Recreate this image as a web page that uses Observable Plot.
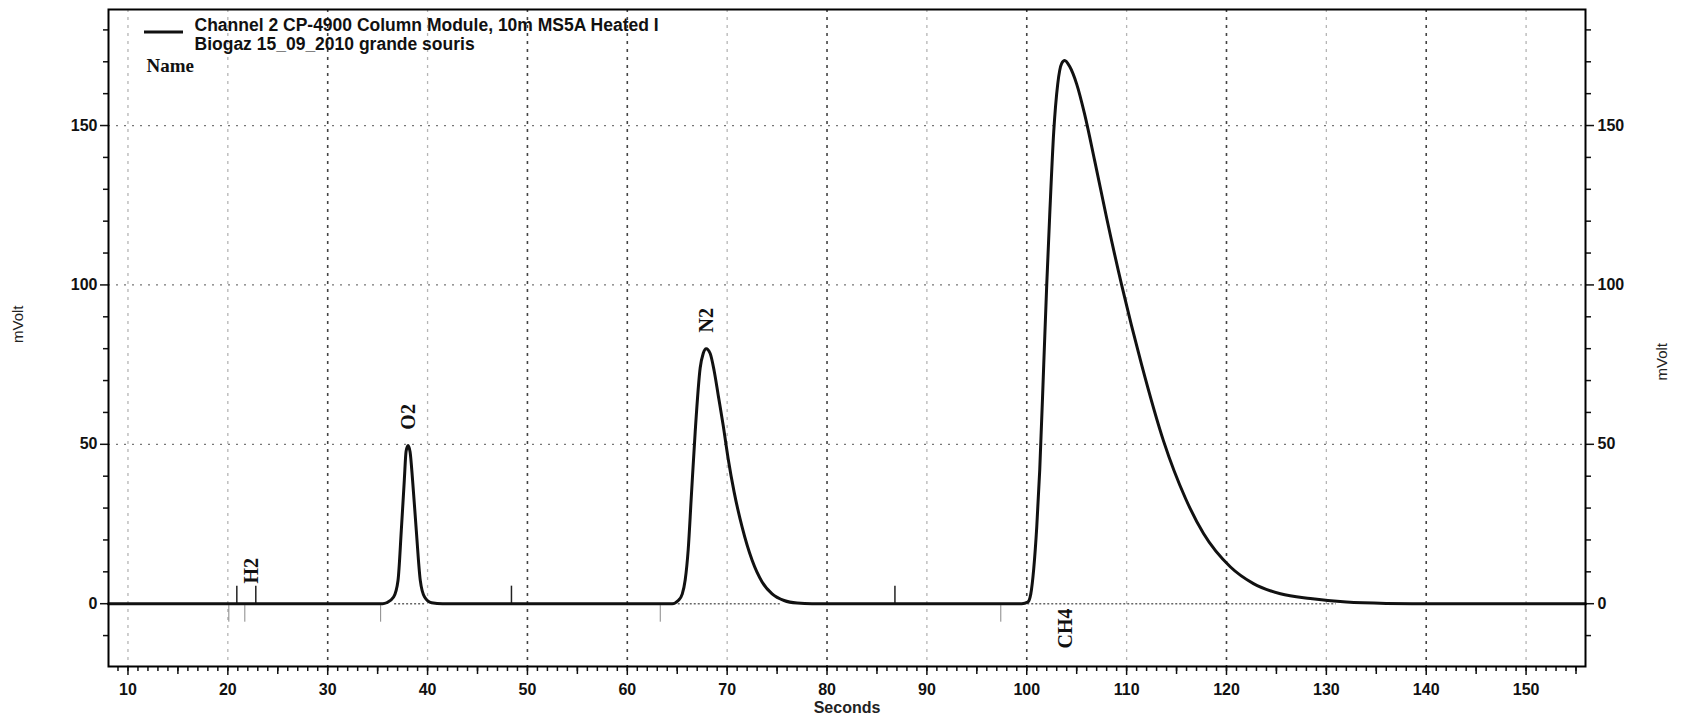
<!DOCTYPE html>
<html><head><meta charset="utf-8">
<script src="https://cdn.jsdelivr.net/npm/d3@7"></script>
<script src="https://cdn.jsdelivr.net/npm/@observablehq/plot@0.6"></script>
<style>html,body{margin:0;padding:0;background:#fff;} #chart{width:1690px;height:723px;}</style>
</head><body><div id="chart"></div>
<script>
// ---- data ----
const traceTime = [8.05, 35.5, 35.9, 36.6, 37.04, 37.37, 37.67, 37.85, 38.05, 38.25, 38.5, 38.87, 39.27, 39.7, 40.4, 41.5,
  64.5, 65.1, 65.5, 65.8, 66.1, 66.4, 66.8, 67.3, 67.6, 67.9, 68.3, 68.7, 69.1, 69.6, 70.1, 70.7, 71.5, 72.5, 73.5, 74.5, 75.7, 77.0, 78.5,
  99.5, 100.1, 100.4, 100.7, 101.0, 101.3, 101.7, 102.0, 102.3, 102.7, 103.1, 103.5, 103.8, 104.3, 105.0, 105.8, 106.8, 108.0, 109.5, 111.5, 113.7, 115.9, 117.7, 120.4, 122.7, 125.4, 128.4, 132.0, 136.0, 140.0, 155.95];
const traceMv = [0, 0, 0.3, 2.1, 7.3, 23.0, 38.7, 47.8, 49.6, 47.6, 38.7, 23.0, 7.3, 2.1, 0.3, 0,
  0, 1.0, 3.0, 7.5, 17.0, 33.0, 54.0, 74.0, 78.5, 80.0, 78.5, 73.0, 65.5, 56.0, 45.5, 35.0, 24.0, 13.6, 6.8, 3.1, 1.0, 0.2, 0,
  0, 0.5, 3.0, 11.0, 24.0, 42.0, 75.0, 100.0, 122.0, 148.0, 163.0, 169.5, 170.4, 168.5, 163.0, 153.5, 139.0, 121.0, 100.0, 75.0, 51.0, 33.0, 22.0, 11.5, 6.3, 3.1, 1.6, 0.5, 0.1, 0, 0];

const peakNamesAbove = ["H2", "O2", "N2"];
const peakTimesAbove = [22.4, 38.07, 67.9];
const peakLabelMvAbove = [6.3, 54.6, 85.1];
const peakNamesBelow = ["CH4"];
const peakTimesBelow = [103.86];
const peakLabelMvBelow = [-1.5];

const upMarkTimes = [20.9, 22.8, 48.4, 86.8];
const downMarkTimes = [20.1, 21.7, 35.3, 63.3, 97.4];
const baselineStarts = [36.7, 65.1, 100.1];
const baselineEnds = [39.7, 75.4, 131.0];

const xMajorTicks = [10, 20, 30, 40, 50, 60, 70, 80, 90, 100, 110, 120, 130, 140, 150];
const yMajorTicks = [0, 50, 100, 150];
const gridDark = [30, 50, 60, 80, 100, 120, 140];
const gridLight = [10, 20, 40, 70, 90, 110, 130, 150];

const legendLines = ["Channel 2 CP-4900 Column Module, 10m MS5A Heated I", "Biogaz 15_09_2010 grande souris"];
const legendName = "Name";
const xTitle = "Seconds";
const yTitle = "mVolt";

// ---- build ----
const trace = traceTime.map((t, i) => ({t, v: traceMv[i]}));
const above = peakNamesAbove.map((n, i) => ({n, t: peakTimesAbove[i], v: peakLabelMvAbove[i]}));
const below = peakNamesBelow.map((n, i) => ({n, t: peakTimesBelow[i], v: peakLabelMvBelow[i]}));
const baselines = baselineStarts.map((s, i) => ({x1: s, x2: baselineEnds[i]}));
const yMinor = d3.range(-10, 190, 10).filter(v => !yMajorTicks.includes(v));
const xMinor = d3.range(9, 156, 1);
const xMid = d3.range(15, 156, 10);

const sans = "Liberation Sans, Arial, sans-serif";
const serif = "Liberation Serif, Times New Roman, serif";

const chart = Plot.plot({
  width: 1690, height: 723,
  marginTop: 9, marginBottom: 57, marginLeft: 108, marginRight: 105,
  style: {fontFamily: sans, color: "#111", background: "#fff"},
  x: {domain: [8.05, 155.95]},
  y: {domain: [-19.7, 186.4]},
  marks: [
    Plot.ruleX(gridLight, {stroke: "#b5b5b5", strokeWidth: 1.3, strokeDasharray: "3,5"}),
    Plot.ruleX(gridDark, {stroke: "#444", strokeWidth: 1.6, strokeDasharray: "3,5"}),
    Plot.ruleY([50, 100, 150], {stroke: "#777", strokeWidth: 1.3, strokeDasharray: "2,6"}),
    Plot.ruleY(baselines, {y: 0, x1: "x1", x2: "x2", stroke: "#666", strokeWidth: 1.5, strokeDasharray: "2,2"}),
    Plot.ruleX(upMarkTimes, {y1: 0, y2: 5.5, stroke: "#222", strokeWidth: 1.5}),
    Plot.ruleX(downMarkTimes, {y1: -0.6, y2: -5.8, stroke: "#888", strokeWidth: 1}),
    Plot.line(trace, {x: "t", y: "v", stroke: "#111", strokeWidth: 3, curve: "monotone-x"}),
    Plot.text(above, {x: "t", y: "v", text: "n", rotate: -90, textAnchor: "start", fontFamily: serif, fontWeight: "bold", fontSize: 20, fill: "#111"}),
    Plot.text(below, {x: "t", y: "v", text: "n", rotate: -90, textAnchor: "end", fontFamily: serif, fontWeight: "bold", fontSize: 20, fill: "#111"}),
    Plot.text([legendLines.join("\n")], {frameAnchor: "top-left", dx: 86, dy: 8, lineAnchor: "top", lineHeight: 1.1, textAnchor: "start", fontFamily: sans, fontWeight: "bold", fontSize: 17.5, fill: "#111"}),
    Plot.text([legendName], {frameAnchor: "top-left", dx: 38, dy: 49, lineAnchor: "top", textAnchor: "start", fontFamily: serif, fontWeight: "bold", fontSize: 19, fill: "#111"}),
    Plot.text([xTitle], {frameAnchor: "bottom", dy: 46, fontFamily: sans, fontWeight: "bold", fontSize: 16, fill: "#222"}),
    Plot.text([yTitle], {frameAnchor: "left", dx: -90, dy: 5, rotate: -90, fontFamily: sans, fontSize: 15, fill: "#222"}),
    Plot.text([yTitle], {frameAnchor: "right", dx: 77, dy: 5, rotate: -90, fontFamily: sans, fontSize: 15, fill: "#222"}),
    Plot.axisX({ticks: xMinor, tickSize: 5, text: null, label: null, strokeWidth: 1.5}),
    Plot.axisX({ticks: xMid, tickSize: 8, text: null, label: null, strokeWidth: 1.5}),
    Plot.axisX({ticks: xMajorTicks, tickSize: 9, tickPadding: 8, label: null, fontSize: 16, fontWeight: "bold", strokeWidth: 1.5}),
    Plot.axisY({anchor: "left", ticks: yMinor, tickSize: 5, text: null, label: null, strokeWidth: 1.5}),
    Plot.axisY({anchor: "left", ticks: yMajorTicks, tickSize: 8, tickPadding: 3, label: null, fontSize: 16, fontWeight: "bold", strokeWidth: 1.5}),
    Plot.axisY({anchor: "right", ticks: yMinor, tickSize: 5, text: null, label: null, strokeWidth: 1.5}),
    Plot.axisY({anchor: "right", ticks: yMajorTicks, tickSize: 8, tickPadding: 4, label: null, fontSize: 16, fontWeight: "bold", strokeWidth: 1.5}),
    Plot.frame({stroke: "#000", strokeWidth: 2})
  ]
});
document.getElementById("chart").appendChild(chart);

// legend line sample (style element of the legend box)
d3.select(chart).append("line")
  .attr("x1", 144).attr("x2", 183).attr("y1", 32).attr("y2", 32)
  .attr("stroke", "#111").attr("stroke-width", 3);
</script>
</body></html>
